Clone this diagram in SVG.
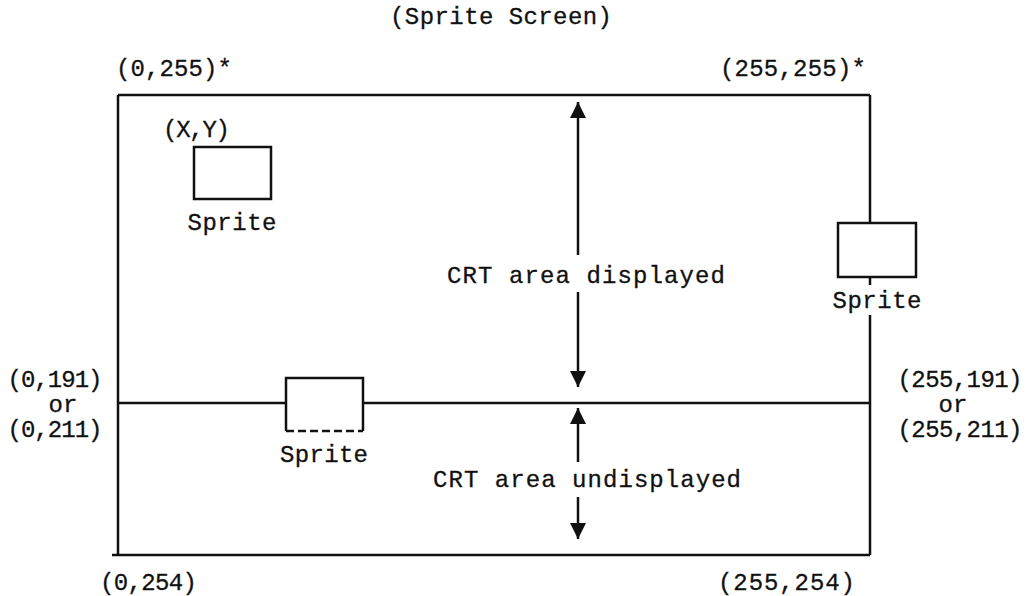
<svg xmlns="http://www.w3.org/2000/svg" width="1033" height="596" viewBox="0 0 1033 596">
<style>
text{font-family:"Liberation Mono","Courier New",monospace;font-size:24px;fill:#111;stroke:#111;stroke-width:0.3}
.ln{stroke:#111;stroke-width:2.5;fill:none}
.bx{stroke:#111;stroke-width:2.5;fill:#fff}
.c{text-anchor:middle}
</style>
<defs>
<marker id="ah" viewBox="0 0 16 20" refX="16" refY="10" markerWidth="16" markerHeight="20" markerUnits="userSpaceOnUse" orient="auto">
<path d="M0,2 L16,10 L0,18 Z" fill="#111"/>
</marker>
</defs>
<rect width="1033" height="596" fill="#fff"/>
<text id="title" x="501" y="24" class="c" textLength="222">(Sprite Screen)</text>
<g id="screen">
<path class="ln" d="M118,95 H870 M118,95 V555 M112,555 H870 M870,95 V223 M870,277 V285 M870,315 V555 M118,403 H286 M363,403 H870"/>
<text x="116" y="76" textLength="116">(0,255)*</text>
<text x="720" y="76" textLength="146">(255,255)*</text>
<text x="100" y="590" textLength="97">(0,254)</text>
<text x="718" y="590" textLength="137">(255,254)</text>
</g>
<g id="left-labels">
<text x="55" y="387" class="c" textLength="95">(0,191)</text>
<text x="63" y="412" class="c">or</text>
<text x="55" y="437" class="c" textLength="95">(0,211)</text>
</g>
<g id="right-labels">
<text x="960" y="387" class="c" textLength="125">(255,191)</text>
<text x="953" y="412" class="c">or</text>
<text x="960" y="437" class="c" textLength="125">(255,211)</text>
</g>
<g id="sprite1">
<text x="163" y="137" textLength="67">(X,Y)</text>
<rect class="bx" x="194" y="147" width="77" height="52"/>
<text x="232" y="230" class="c" textLength="89">Sprite</text>
</g>
<g id="sprite2">
<rect class="bx" x="838" y="223" width="78" height="54"/>
<text x="877" y="308" class="c" textLength="89">Sprite</text>
</g>
<g id="sprite3">
<path class="ln" d="M286,431 V378 H363 V431"/>
<path class="ln" d="M286,431 H363" stroke-dasharray="8,4"/>
<text x="324" y="462" class="c" textLength="88">Sprite</text>
</g>
<g id="connectors">
<path class="ln" d="M578,255 V102" marker-end="url(#ah)"/>
<path class="ln" d="M578,292 V387" marker-end="url(#ah)"/>
<path class="ln" d="M578,462 V408" marker-end="url(#ah)"/>
<path class="ln" d="M578,497 V539" marker-end="url(#ah)"/>
</g>
<g id="labels">
<text x="447" y="283" textLength="278">CRT area displayed</text>
<text x="433" y="487" textLength="308">CRT area undisplayed</text>
</g>
</svg>
